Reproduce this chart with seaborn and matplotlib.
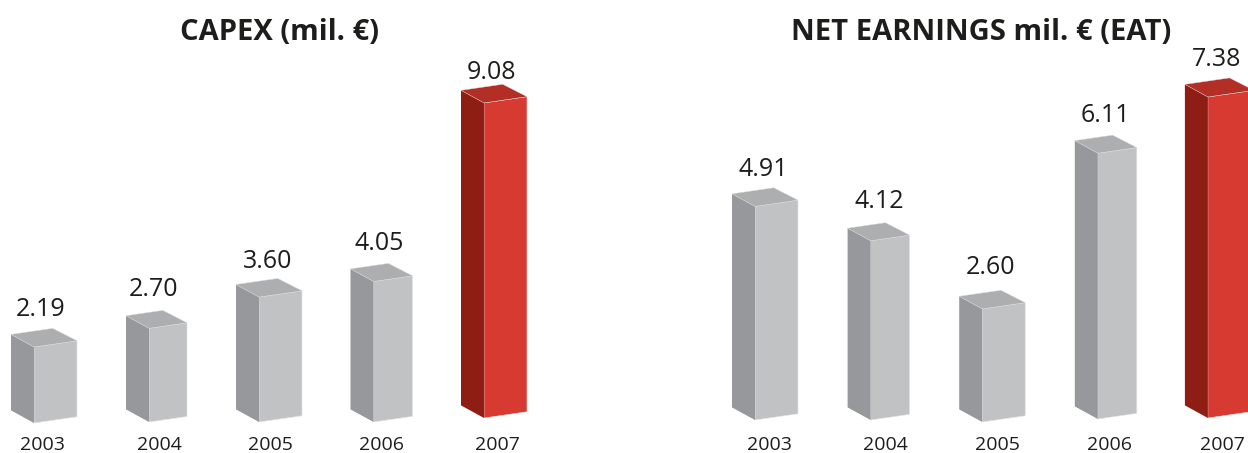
import pandas as pd
import seaborn as sns
import matplotlib.pyplot as plt
from matplotlib.patches import Polygon
from matplotlib.transforms import Affine2D, IdentityTransform, ScaledTranslation
import numpy as np

# Datos
years = ["2003", "2004", "2005", "2006", "2007"]
capex = [2.19, 2.70, 3.60, 4.05, 9.08]
earnings = [4.91, 4.12, 2.60, 6.11, 7.38]

# Colores (frente, lado, tapa)
gris = ("#c1c2c4", "#97989c", "#adaeb0")
rojo = ("#d63a30", "#8e1e14", "#b32e25")
negro = "#1d1d1b"

W, H = 1248, 453

sns.set_theme(style="white")
plt.rcParams["font.family"] = ["Open Sans", "DejaVu Sans"]
plt.rcParams["text.color"] = negro

fig = plt.figure(figsize=(W / 100, H / 100), dpi=100)

# Ajustes a ojo de cada panel, en pixeles
paneles = [
    dict(valores=capex, titulo="CAPEX (mil. €)", x0=-0.75, ancho=562.5, base=422, escala=34.7, titulo_x=279,
         anchos=[43, 38, 43, 39, 43], bajada=[1, 0, 0, 0, -4],
         et_dx=[-14.5, -15, -12.5, -13.5, -13.5], et_dy=[38, 39, 36, 38, 30],
         tick_dx=[-13, -9, -10.5, -11.5, -8.5], pad=10),
    dict(valores=earnings, titulo="NET EARNINGS mil. € (EAT)", x0=719.7, ancho=568, base=420, escala=43.5, titulo_x=981.5,
         anchos=[43, 39, 43, 39, 46], bajada=[0, 0, 2, -1, -2],
         et_dx=[-13.5, -11, -13.6, -12, -14], et_dy=[37, 39, 41, 38, 37],
         tick_dx=[-7, -5, -6.6, -8, -8], pad=11.5),
]

k = 0.145  # caida de la cara frontal
lado_x, lado_y = 23, 12.6

for p in paneles:
    alto = p["base"] - 2
    ax = fig.add_axes([p["x0"] / W, (H - p["base"]) / H, p["ancho"] / W, alto / H])
    df = pd.DataFrame({"year": years, "value": p["valores"]})
    sns.barplot(data=df, x="year", y="value", hue="year", dodge=False, legend=False, ax=ax,
                palette=[gris[0]] * 4 + [rojo[0]], width=0.36, saturation=1, linewidth=0)
    ax.set_xlim(-0.5, 4.5)
    ax.set_ylim(0, alto / p["escala"])
    ax.set_xlabel("")
    ax.set_ylabel("")
    ax.set_yticks([])
    sns.despine(ax=ax, left=True, bottom=True)
    ax.patch.set_alpha(0)

    barras = sorted(ax.patches, key=lambda b: b.get_x())
    for i, b in enumerate(barras):
        frente, lado, tapa = rojo if i == 4 else gris
        centro = b.get_x() + b.get_width() / 2
        b.set_width(p["anchos"][i] / (p["ancho"] / 5))
        b.set_x(centro - b.get_width() / 2)

        # Pixeles de las esquinas de la barra
        (xa, ya), (xb, yb) = ax.transData.transform([(b.get_x(), 0), (b.get_x() + b.get_width(), b.get_height())])
        desp = -p["bajada"][i]
        cizalla = Affine2D().translate(-xa, -ya).skew(0, np.arctan(k)).translate(xa, ya + desp)
        b.set_transform(ax.transData + cizalla)
        b.set_clip_on(False)
        b.set_edgecolor("#e4e4e4")
        b.set_linewidth(0.4)

        w = xb - xa
        ya += desp
        yb += desp
        inf = (xa, ya)
        sup = (xa, yb)
        der = (xb, yb + k * w)
        izq_sup = (xa - lado_x, yb + lado_y)
        izq_inf = (xa - lado_x, ya + lado_y)
        fondo = (izq_sup[0] + 0.97 * w, izq_sup[1] + 0.97 * k * w)
        ax.add_patch(Polygon([izq_sup, sup, inf, izq_inf], closed=True, facecolor=lado, edgecolor="none",
                             transform=IdentityTransform(), clip_on=False))
        ax.add_patch(Polygon([izq_sup, fondo, der, sup], closed=True, facecolor=tapa, edgecolor="#dcdcdc",
                             linewidth=0.3, transform=IdentityTransform(), clip_on=False))

        ax.annotate(f"{p['valores'][i]:.2f}", xy=(centro, p["valores"][i]), xycoords="data",
                    xytext=(p["et_dx"][i], p["et_dy"][i] + desp), textcoords="offset pixels",
                    ha="center", va="center", fontsize=18, annotation_clip=False)

    ax.tick_params(axis="x", length=0, pad=p["pad"], labelsize=14, labelcolor=negro)
    ax.set_xticks(range(len(years)))
    ax.set_xticklabels(years)
    for i, t in enumerate(ax.get_xticklabels()):
        t.set_transform(t.get_transform() + ScaledTranslation(p["tick_dx"][i] / 100, 0, fig.dpi_scale_trans))

    ax.set_title(p["titulo"], x=(p["titulo_x"] - p["x0"]) / p["ancho"], y=(p["base"] - 32.5) / alto, pad=0,
                 va="center", fontsize=21, fontweight="bold", color=negro)

plt.savefig("out.png", dpi=100)
plt.close()
